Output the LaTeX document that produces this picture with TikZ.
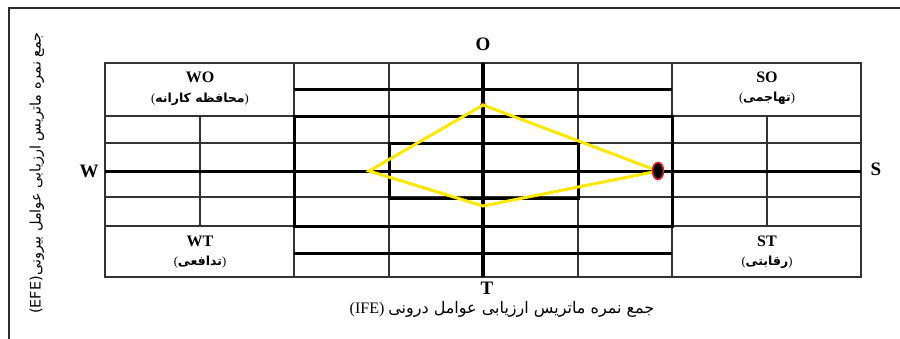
\documentclass[tikz,border=0pt]{standalone}
\usepackage{fontspec}
\usetikzlibrary{shapes.geometric}
\setmainfont{Liberation Serif}
\newfontfamily\ar[Script=Arabic]{DejaVu Sans}
\newfontfamily\arsans{DejaVu Sans}
\TeXXeTstate=1
\definecolor{diamyellow}{RGB}{255,232,0}
\definecolor{dotred}{RGB}{230,30,40}
\definecolor{framegray}{RGB}{45,45,45}
\begin{document}
\begin{tikzpicture}[x=1pt,y=-1pt,
  gridthin/.style={line width=1.1pt,black!80},
  gridthick/.style={line width=3pt,black},
  axisline/.style={line width=4pt,black},
  axlbl/.style={font=\fontsize{19}{20}\selectfont\bfseries,inner sep=0pt},
  quad/.style={inner sep=0pt,font=\fontsize{16}{17}\selectfont\bfseries},
  quadar/.style={inner sep=0pt,font=\fontsize{12.5}{14}\selectfont},
  diam/.style={line width=3pt,diamyellow,line join=miter}]
\useasboundingbox (0,0) rectangle (900,338);
% outer frame
\draw[line width=1.5pt,framegray] (9,340) -- (9,8) -- (902,8);
% thin grid
\draw[gridthin] (105,63) rectangle (861,277);
\foreach \yy in {116,143,197,226}{\draw[gridthin] (105,\yy) -- (861,\yy);}
\foreach \xx in {294,389,578,672}{\draw[gridthin] (\xx,63) -- (\xx,277);}
\draw[gridthin] (200,116) -- (200,226);
\draw[gridthin] (767,116) -- (767,226);
% thick lines
\foreach \yy in {89,253}{\draw[gridthick] (294,\yy) -- (672,\yy);}
\draw[gridthick] (294,116) rectangle (672,226);
\draw[gridthick] (389,143) rectangle (578,198);
\draw[gridthick] (105,171) -- (861,171);
\draw[axisline] (483,63) -- (483,277);
% axis labels
\node[axlbl] (O) at (483,44) {O};
\node[axlbl] (T) at (487,288) {T};
\node[axlbl] (W) at (89,171) {W};
\node[axlbl] (S) at (876,169) {S};
% quadrant labels
\node[quad] (WO) at (200,77) {WO};
\node[quadar] (WOa) at (200,99) {({\ar\bfseries\beginR محافظه کارانه\endR})};
\node[quad] (SO) at (767,77) {SO};
\node[quadar] (SOa) at (767,98) {({\ar\bfseries\beginR تهاجمی\endR})};
\node[quad] (WT) at (200,241) {WT};
\node[quadar] (WTa) at (200,262) {({\ar\bfseries\beginR تدافعی\endR})};
\node[quad] (ST) at (767,241) {ST};
\node[quadar] (STa) at (767,262) {({\ar\bfseries\beginR رقابتی\endR})};
% axis titles
\node[inner sep=0pt,font=\fontsize{16}{17}\selectfont] (ife) at (502,309)
  {(IFE) {\ar\beginR جمع نمره ماتریس ارزیابی عوامل درونی\endR}};
\node[inner sep=0pt,rotate=90,font=\fontsize{14.5}{15}\selectfont] (efe) at (37,173)
  {{\arsans(EFE)}{\ar\beginR جمع نمره ماتریس ارزیابی عوامل بیرونی\endR}};
% strategy diamond
\coordinate (dt) at (483,105);
\coordinate (dr) at (658,171);
\coordinate (db) at (483,206);
\coordinate (dl) at (369,171);
\fill[red!60!black] (dt) ellipse (3 and 2.5);
\draw[diam] (dt) -- (dr) -- (db) -- (dl) -- cycle;
\node[ellipse,draw=dotred,line width=1.6pt,fill=black,minimum width=11pt,minimum height=17pt,inner sep=0pt] (pt) at (dr) {};
\end{tikzpicture}
\end{document}
